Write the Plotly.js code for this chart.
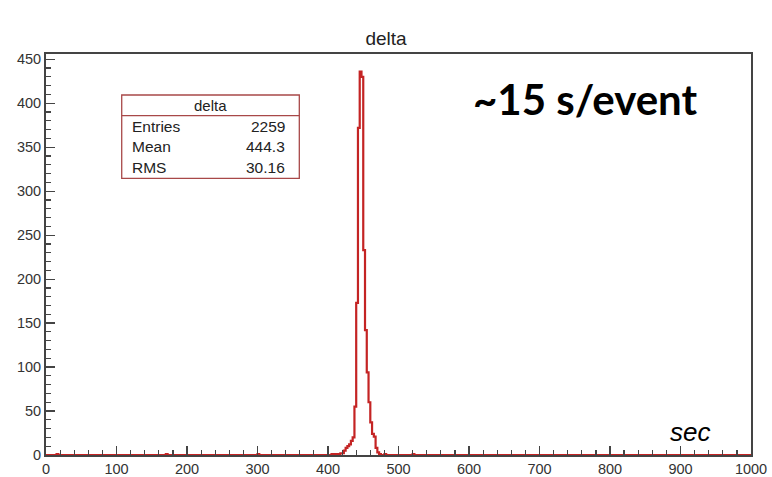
<!DOCTYPE html>
<html>
<head>
<meta charset="utf-8">
<script src="https://cdn.plot.ly/plotly-3.0.1.min.js"></script>
<style>html,body{margin:0;padding:0;background:#fff;}#chart{width:772px;height:477px;}</style>
</head>
<body>
<div id="chart"></div>
<script>
// Histogram "delta": bin width 2.5 over 0..1000; only non-empty bins listed
const binWidth = 2.5;
const xMin = 0, xMax = 1000;
const binLow = [15, 170, 300, 405, 410, 415, 417.5, 420, 422.5, 425, 427.5, 430, 432.5, 435, 437.5, 440, 442.5, 445, 447.5, 450, 452.5, 455, 457.5, 460, 462.5, 465, 467.5, 470, 472.5, 480, 520];
const counts = [1, 1, 1, 1, 1, 1, 2, 2, 5, 8, 10, 12, 16, 20, 55, 173, 372, 436, 430, 233, 142, 94, 60, 37, 24, 21, 8, 3, 1, 1, 1];
const statsLabels = ["Entries", "Mean", "RMS"];
const statsValues = ["2259", "444.3", "30.16"];
const histName = "delta";

const nb = Math.round((xMax - xMin) / binWidth);
const full = new Array(nb).fill(0);
binLow.forEach((b, i) => { full[Math.round((b - xMin) / binWidth)] = counts[i]; });
const xs = [], ys = [];
for (let i = 0; i < nb; i++) { xs.push(xMin + i * binWidth); ys.push(full[i]); }
xs.push(xMax); ys.push(full[nb - 1]);

const trace = {
  x: xs, y: ys, type: 'scatter', mode: 'lines',
  line: {shape: 'hv', color: '#c42424', width: 2.2},
  hoverinfo: 'skip', showlegend: false
};

const boxColor = '#a84848';
const bx0 = 0.1074, bx1 = 0.3593, by0 = 0.690, by1 = 0.8978, bdiv = 0.8461;
const rowsY = [0.8187, 0.7688, 0.7175];
const F = 'Liberation Sans, Arial, sans-serif';
const annotations = [
  {text: histName, xref: 'paper', yref: 'paper', x: (bx0 + bx1) / 2, y: 0.871, showarrow: false,
   font: {family: F, size: 15, color: '#222'}, xanchor: 'center', yanchor: 'middle'},
  {text: '~15 s/event', xref: 'paper', yref: 'paper', x: 0.765, y: 0.887, showarrow: false,
   font: {family: 'Lato, Open Sans, sans-serif', size: 42, color: '#000', weight: 'bold'}, xanchor: 'center', yanchor: 'middle'},
  {text: 'sec', xref: 'paper', yref: 'paper', x: 0.913, y: 0.058, showarrow: false,
   font: {family: F, size: 26, color: '#000', style: 'italic'}, xanchor: 'center', yanchor: 'middle'}
];
statsLabels.forEach((lab, i) => {
  annotations.push({text: lab, xref: 'paper', yref: 'paper', x: 0.1191, y: rowsY[i], showarrow: false,
    xanchor: 'left', yanchor: 'middle', font: {family: F, size: 15.5, color: '#222'}});
  annotations.push({text: statsValues[i], xref: 'paper', yref: 'paper', x: 0.3418, y: rowsY[i], showarrow: false,
    xanchor: 'right', yanchor: 'middle', font: {family: F, size: 15.5, color: '#222'}});
});

const layout = {
  width: 772, height: 477,
  margin: {l: 46, r: 21, t: 54, b: 22, pad: 0},
  paper_bgcolor: '#fff', plot_bgcolor: '#fff',
  title: {text: histName, x: 0.5, xanchor: 'center', y: 1 - 38 / 477, yanchor: 'middle',
          font: {family: F, size: 19, color: '#222'}},
  xaxis: {range: [xMin, xMax], dtick: 100, tick0: 0, ticks: 'inside', ticklen: 9, tickwidth: 1.2, tickcolor: '#444',
          minor: {dtick: 20, ticks: 'inside', ticklen: 5, tickcolor: '#444', showgrid: false},
          showgrid: false, zeroline: false, showline: true, mirror: true, linecolor: '#444', linewidth: 2,
          tickfont: {family: F, size: 14.5, color: '#333'}, fixedrange: true},
  yaxis: {range: [0, 456], dtick: 50, tick0: 0, ticks: 'inside', ticklen: 9, tickwidth: 1.2, tickcolor: '#444',
          minor: {dtick: 10, ticks: 'inside', ticklen: 5, tickcolor: '#444', showgrid: false},
          showgrid: false, zeroline: false, showline: true, mirror: true, linecolor: '#444', linewidth: 2,
          tickfont: {family: F, size: 14.5, color: '#333'}, fixedrange: true},
  shapes: [
    {type: 'rect', xref: 'paper', yref: 'paper', x0: bx0, x1: bx1, y0: by0, y1: by1,
     line: {color: boxColor, width: 1.3}, fillcolor: '#fff', layer: 'above'},
    {type: 'line', xref: 'paper', yref: 'paper', x0: bx0, x1: bx1, y0: bdiv, y1: bdiv,
     line: {color: boxColor, width: 1.3}, layer: 'above'}
  ],
  annotations: annotations
};

Plotly.newPlot('chart', [trace], layout, {displayModeBar: false, staticPlot: true});
</script>
</body>
</html>
